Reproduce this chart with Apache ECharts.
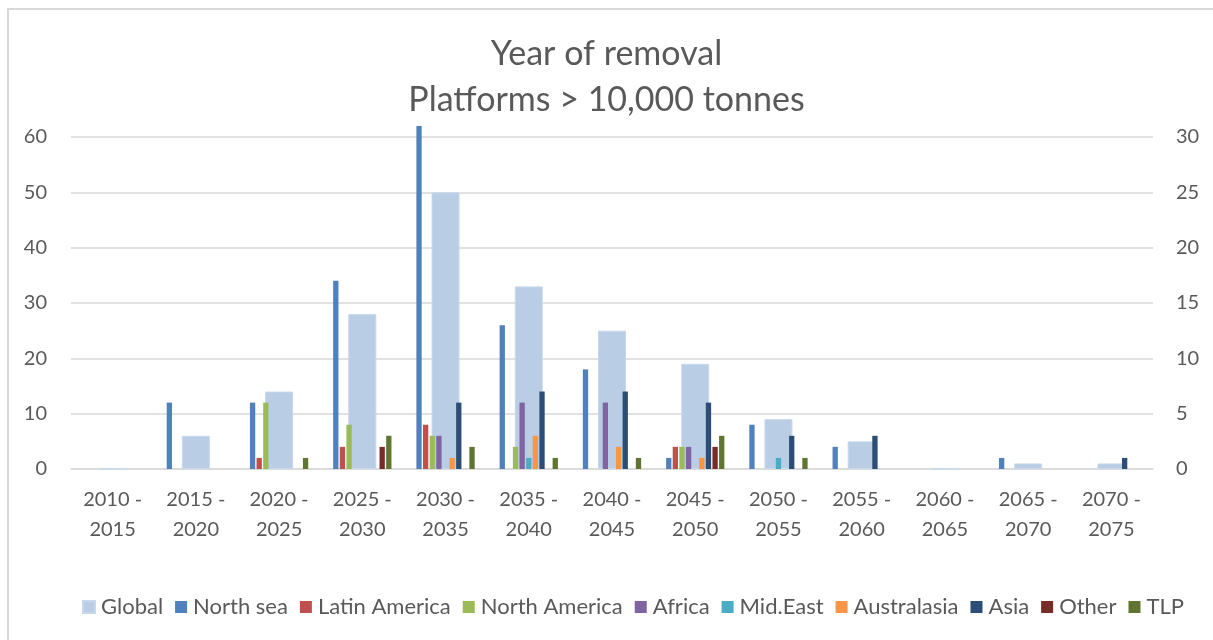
<!DOCTYPE html>
<html>
<head>
<meta charset="utf-8">
<title>Year of removal</title>
<script src="https://cdn.jsdelivr.net/npm/echarts@6/dist/echarts.min.js"></script>
<style>
  html, body { margin: 0; padding: 0; background: #ffffff; }
  #frame {
    position: absolute; left: 7px; top: 8px;
    width: 1220px; height: 650px;
    border: 2px solid #D9D9D9; box-sizing: border-box;
  }
  #chart { position: absolute; left: 0; top: 0; width: 1213px; height: 640px; }
</style>
</head>
<body>
<div id="frame"></div>
<div id="chart"></div>
<script>
// Five-year removal windows
const periods = [
  '2010 -\n2015', '2015 -\n2020', '2020 -\n2025', '2025 -\n2030', '2030 -\n2035',
  '2035 -\n2040', '2040 -\n2045', '2045 -\n2050', '2050 -\n2055', '2055 -\n2060',
  '2060 -\n2065', '2065 -\n2070', '2070 -\n2075'
];

// Total platforms per window (left axis)
const globalCounts   = [0, 6, 14, 28, 50, 33, 25, 19, 9, 5, 0, 1, 1];

// Regional breakdown (right axis)
const northSea       = [0, 6, 6, 17, 31, 13, 9, 1, 4, 2, 0, 1, 0];
const latinAmerica   = [0, 0, 1, 2, 4, 0, 0, 2, 0, 0, 0, 0, 0];
const northAmerica   = [0, 0, 6, 4, 3, 2, 0, 2, 0, 0, 0, 0, 0];
const africa         = [0, 0, 0, 0, 3, 6, 6, 2, 0, 0, 0, 0, 0];
const midEast        = [0, 0, 0, 0, 0, 1, 0, 0, 1, 0, 0, 0, 0];
const australasia    = [0, 0, 0, 0, 1, 3, 2, 1, 0, 0, 0, 0, 0];
const asia           = [0, 0, 0, 0, 6, 7, 7, 6, 3, 3, 0, 0, 1];
const other          = [0, 0, 0, 2, 0, 0, 0, 2, 0, 0, 0, 0, 0];
const tlp            = [0, 0, 1, 3, 2, 1, 1, 3, 1, 0, 0, 0, 0];

// Axis ticks
const leftTicks  = { min: 0, max: 60, interval: 10 };
const rightTicks = { min: 0, max: 30, interval: 5 };

const FONT = 'Lato';
const TEXT = '#595959';

const regions = [
  { name: 'North sea',     data: northSea,     color: '#4F81BD' },
  { name: 'Latin America', data: latinAmerica, color: '#C0504D' },
  { name: 'North America', data: northAmerica, color: '#9BBB59' },
  { name: 'Africa',        data: africa,       color: '#8064A2' },
  { name: 'Mid.East',      data: midEast,      color: '#4BACC6' },
  { name: 'Australasia',   data: australasia,  color: '#F79646' },
  { name: 'Asia',          data: asia,         color: '#2C4D75' },
  { name: 'Other',         data: other,        color: '#772C2A' },
  { name: 'TLP',           data: tlp,          color: '#5F7530' }
];

const series = [{
  name: 'Global',
  type: 'bar',
  xAxisIndex: 1,
  yAxisIndex: 0,
  data: globalCounts,
  barWidth: 28,
  itemStyle: { color: '#B9CDE5', borderColor: '#C8D8EC', borderWidth: 1 },
  z: 1
}].concat(regions.map(r => ({
  name: r.name,
  type: 'bar',
  xAxisIndex: 0,
  yAxisIndex: 1,
  data: r.data,
  barWidth: 5.3,
  barGap: '25%',
  clip: false,
  itemStyle: { color: r.color },
  z: 2
})));

const chart = echarts.init(document.getElementById('chart'), null, { renderer: 'canvas' });
chart.setOption({
  animation: false,
  backgroundColor: 'transparent',
  textStyle: { fontFamily: FONT, color: TEXT },
  title: {
    text: 'Year of removal\nPlatforms > 10,000 tonnes',
    left: 'center',
    top: 26,
    textStyle: { fontFamily: FONT, fontSize: 34, fontWeight: 'normal', color: TEXT, lineHeight: 46 }
  },
  legend: {
    top: 591,
    left: 77,
    itemWidth: 12,
    itemHeight: 12,
    itemGap: 12,
    icon: 'rect',
    textStyle: { fontFamily: FONT, fontSize: 22, color: TEXT, padding: [0, 0, 0, 1] },
    data: ['Global'].concat(regions.map(r => r.name))
  },
  grid: { left: 71, right: 60, top: 137, bottom: 171 },
  xAxis: [{
    type: 'category',
    data: periods,
    axisLine: { lineStyle: { color: '#D9D9D9', width: 1.5 } },
    axisTick: { show: false },
    axisLabel: { fontFamily: FONT, fontSize: 20, color: TEXT, lineHeight: 30, margin: 16, interval: 0 }
  }, {
    type: 'category',
    data: periods,
    show: false
  }],
  yAxis: [{
    type: 'value',
    position: 'left',
    min: leftTicks.min, max: leftTicks.max, interval: leftTicks.interval,
    axisLine: { show: false },
    axisTick: { show: false },
    axisLabel: { fontFamily: FONT, fontSize: 20, color: TEXT, margin: 24 },
    splitLine: { lineStyle: { color: '#D9D9D9', width: 1.5 } }
  }, {
    type: 'value',
    position: 'right',
    min: rightTicks.min, max: rightTicks.max, interval: rightTicks.interval,
    axisLine: { show: false },
    axisTick: { show: false },
    axisLabel: { fontFamily: FONT, fontSize: 20, color: TEXT, margin: 23 },
    splitLine: { show: false }
  }],
  series: series
});
</script>
</body>
</html>
